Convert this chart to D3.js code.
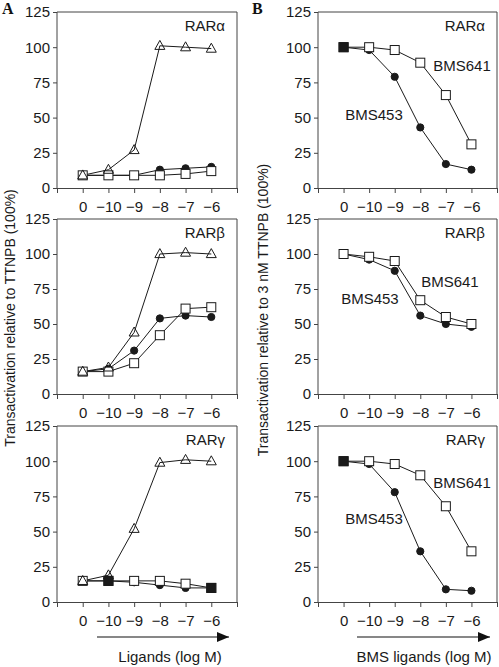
<!DOCTYPE html>
<html>
<head>
<meta charset="utf-8">
<script src="https://cdn.jsdelivr.net/npm/d3@7"></script>
<style>
  html, body { margin: 0; padding: 0; background: #fff; }
  svg { display: block; font-family: "Liberation Sans", Arial, Helvetica, sans-serif; }
</style>
</head>
<body>
<svg id="chart" width="499" height="667"></svg>
<script>
// ---------- data ----------
const xLabels = ["0", "\u221210", "\u22129", "\u22128", "\u22127", "\u22126"];
const yTicks = [0, 25, 50, 75, 100, 125];
const receptors = ["RAR\u03b1", "RAR\u03b2", "RAR\u03b3"];

// Panel A (rows: RARα, RARβ, RARγ)
const aTriangle = [
  [9, 13, 27, 101, 100, 99],
  [16, 19, 44, 100, 101, 100],
  [15, 19, 52, 99, 101, 100]
];
const aCircle = [
  [9, 9, 9, 13, 14, 15],
  [16, 18, 31, 54, 56, 55],
  [15, 15, 14, 12, 10, 10]
];
const aSquare = [
  [9, 9, 9, 9, 10, 12],
  [16, 16, 22, 42, 61, 62],
  [15, 15, 15, 15, 13, 10]
];
// Panel B
const bBMS641 = [
  [100, 100, 98, 89, 66, 31],
  [100, 98, 95, 67, 55, 50],
  [100, 100, 98, 90, 68, 36]
];
const bBMS453 = [
  [100, 98, 79, 43, 17, 13],
  [100, 96, 88, 56, 50, 48],
  [100, 98, 78, 36, 9, 8]
];
// overlapping points drawn as filled squares (index of point)
const aOverlap = [[], [], [1, 5]];
const bOverlap = [[0], [], [0]];
// series label anchors in data units [x index (1..6 = points), y value]
const bLabel641 = [[5.63, 87], [5.16, 80], [5.63, 85]];
const bLabel453 = [[2.19, 52], [2.03, 68], [2.19, 59]];

const yTitleA = "Transactivation relative to TTNPB (100%)";
const yTitleB = "Transactivation relative to 3 nM TTNPB (100%)";
const xTitleA = "Ligands (log M)";
const xTitleB = "BMS ligands (log M)";

// ---------- layout ----------
const svg = d3.select("#chart");
const cols = [[57, 237], [318, 497]];
const rows = [[12, 188], [219, 394], [426, 602]];
const ink = "#1a1a1a";
const frame = "#444";
const fs = 15;

const defs = svg.append("defs");
defs.append("marker")
  .attr("id", "arrow").attr("viewBox", "0 0 12 10")
  .attr("refX", 12).attr("refY", 5)
  .attr("markerWidth", 12).attr("markerHeight", 10)
  .attr("markerUnits", "userSpaceOnUse")
  .attr("orient", "auto")
  .append("path").attr("d", "M0,0 L12,5 L0,10 Z").attr("fill", "#111");

function drawPanel(ci, ri, series, overlap, extra) {
  const [x0, x1] = cols[ci];
  const [yt, yb] = rows[ri];
  const x = d3.scaleLinear().domain([0, 7]).range([x0, x1]);
  const y = d3.scaleLinear().domain([0, 125]).range([yb, yt]);
  const g = svg.append("g");

  // frame: left, top, right
  g.append("path")
    .attr("d", `M${x0},${yb} V${yt} H${x1} V${yb}`)
    .attr("fill", "none").attr("stroke", frame).attr("stroke-width", 1);

  // y axis
  const ya = g.append("g").attr("transform", `translate(${x0},0)`)
    .call(d3.axisLeft(y).tickValues(yTicks).tickSize(4).tickPadding(3));
  ya.select(".domain").remove();
  ya.selectAll("line").attr("stroke", frame);
  ya.selectAll("text").attr("font-size", fs).attr("fill", ink)
    .attr("font-family", "'Liberation Sans', Arial, sans-serif");

  // x axis
  const xa = g.append("g").attr("transform", `translate(0,${yb})`)
    .call(d3.axisBottom(x).tickValues(d3.range(8)).tickSize(5).tickPadding(8)
      .tickFormat(d => (d >= 1 && d <= 6) ? xLabels[d - 1] : ""));
  xa.select(".domain").attr("stroke", frame);
  xa.selectAll("line").attr("stroke", frame);
  xa.selectAll("text").attr("font-size", fs).attr("fill", ink)
    .attr("font-family", "'Liberation Sans', Arial, sans-serif");

  const line = d3.line().x((d, i) => x(i + 1)).y(d => y(d));
  series.forEach(s => {
    g.append("path").datum(s.values).attr("d", line)
      .attr("fill", "none").attr("stroke", ink).attr("stroke-width", 1);
  });
  // markers: circles, then squares, then triangles
  const order = ["circle", "square", "triangle"];
  order.forEach(shape => {
    series.filter(s => s.shape === shape).forEach(s => {
      s.values.forEach((v, i) => {
        const cx = x(i + 1), cy = y(v);
        if (shape === "circle") {
          g.append("circle").attr("cx", cx).attr("cy", cy).attr("r", 3.6)
            .attr("fill", ink).attr("stroke", ink);
        } else if (shape === "square") {
          g.append("rect").attr("x", cx - 4.5).attr("y", cy - 4.5)
            .attr("width", 9).attr("height", 9)
            .attr("fill", "#fff").attr("stroke", ink).attr("stroke-width", 1);
        } else {
          const h = 9;
          g.append("path")
            .attr("d", `M${cx},${cy - h * 0.6} L${cx + 5},${cy + h * 0.4} L${cx - 5},${cy + h * 0.4} Z`)
            .attr("fill", "none").attr("stroke", ink).attr("stroke-width", 1);
        }
      });
    });
  });
  const sqSeries = series.find(s => s.shape === "square");
  overlap.forEach(i => {
    const cx = x(i + 1), cy = y(sqSeries.values[i]);
    g.append("rect").attr("x", cx - 4.5).attr("y", cy - 4.5)
      .attr("width", 9).attr("height", 9)
      .attr("fill", ink).attr("stroke", ink);
  });

  // receptor label
  g.append("text").attr("x", x1 - 12).attr("y", yt + 19)
    .attr("text-anchor", "end").attr("font-size", fs).attr("fill", ink)
    .text(receptors[ri]);

  if (extra) extra(g, x, y);
  return { x, y };
}

for (let r = 0; r < 3; r++) {
  drawPanel(0, r, [
    { shape: "circle", values: aCircle[r] },
    { shape: "square", values: aSquare[r] },
    { shape: "triangle", values: aTriangle[r] }
  ], aOverlap[r]);

  drawPanel(1, r, [
    { shape: "circle", values: bBMS453[r] },
    { shape: "square", values: bBMS641[r] }
  ], bOverlap[r], (g, x, y) => {
    g.append("text").attr("x", x(bLabel641[r][0])).attr("y", y(bLabel641[r][1]))
      .attr("dy", "0.35em").attr("text-anchor", "middle")
      .attr("font-size", fs).attr("fill", ink).text("BMS641");
    g.append("text").attr("x", x(bLabel453[r][0])).attr("y", y(bLabel453[r][1]))
      .attr("dy", "0.35em").attr("text-anchor", "middle")
      .attr("font-size", fs).attr("fill", ink).text("BMS453");
  });
}

// panel letters
svg.append("text").attr("x", 2).attr("y", 14).attr("font-size", 16)
  .attr("font-weight", "bold").attr("font-family", "'Liberation Serif', 'Times New Roman', serif")
  .attr("fill", "#111").text("A");
svg.append("text").attr("x", 252).attr("y", 14).attr("font-size", 16)
  .attr("font-weight", "bold").attr("font-family", "'Liberation Serif', 'Times New Roman', serif")
  .attr("fill", "#111").text("B");

// y titles
svg.append("text").attr("transform", "translate(10,318) rotate(-90)")
  .attr("text-anchor", "middle").attr("dy", "0.35em")
  .attr("font-size", 14).attr("fill", ink).text(yTitleA);
svg.append("text").attr("transform", "translate(263,310) rotate(-90)")
  .attr("text-anchor", "middle").attr("dy", "0.35em")
  .attr("font-size", 14).attr("fill", ink).text(yTitleB);

// arrows and x titles
svg.append("line").attr("x1", 97).attr("x2", 229).attr("y1", 637).attr("y2", 637)
  .attr("stroke", "#111").attr("stroke-width", 1.2).attr("marker-end", "url(#arrow)");
svg.append("line").attr("x1", 357).attr("x2", 490).attr("y1", 637).attr("y2", 637)
  .attr("stroke", "#111").attr("stroke-width", 1.2).attr("marker-end", "url(#arrow)");
svg.append("text").attr("x", 170).attr("y", 662).attr("text-anchor", "middle")
  .attr("font-size", 15).attr("fill", ink).text(xTitleA);
svg.append("text").attr("x", 424).attr("y", 662).attr("text-anchor", "middle")
  .attr("font-size", 15).attr("fill", ink).text(xTitleB);
</script>
</body>
</html>
